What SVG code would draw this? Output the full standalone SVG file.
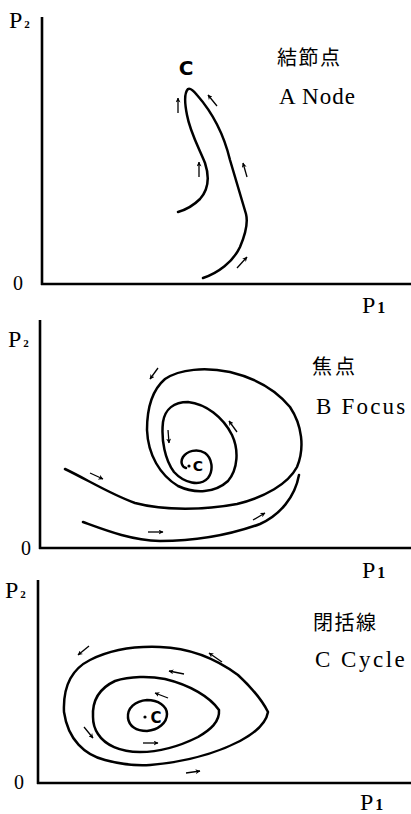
<svg xmlns="http://www.w3.org/2000/svg" width="411" height="814" viewBox="0 0 411 814">
<defs>
<style>
.axis{stroke:#000;stroke-width:2.6;fill:none}
.curve{stroke:#000;stroke-width:2.5;fill:none;stroke-linecap:round;stroke-linejoin:round}
.arr{stroke:#000;stroke-width:1.3;fill:none;marker-end:url(#ah)}
.ax{font-family:"Liberation Serif",serif;font-size:24px;fill:#000}
.zero{font-family:"Liberation Serif",serif;font-size:20px;fill:#000}
.sub{font-family:"Liberation Serif",serif;font-weight:bold;fill:#000}
.jp{font-family:"Noto Sans CJK JP",sans-serif;font-size:20px;fill:#000}
.en{font-family:"Liberation Serif",serif;font-size:23px;fill:#000}
.hc{font-family:"DejaVu Sans",sans-serif;font-weight:bold;fill:#000}
</style>
<marker id="ah" viewBox="0 0 10 10" refX="9" refY="5" markerWidth="5" markerHeight="5" orient="auto" markerUnits="userSpaceOnUse">
<path d="M0,0 L10,5 L0,10 L3,5 Z" fill="#000"/>
</marker>
</defs>
<rect width="411" height="814" fill="#fff"/>

<g id="panelA">
<g id="axesA">
<line class="axis" x1="42" y1="17" x2="42" y2="285"/>
<line class="axis" x1="41" y1="284" x2="411" y2="284"/>
<text class="ax" x="9" y="28">P<tspan class="sub" style="font-size:11px" dx="2">2</tspan></text>
<text class="zero" x="13" y="290">0</text>
<text class="ax" x="362" y="313">P<tspan class="sub" style="font-size:16px" dx="2">1</tspan></text>
</g>
<g id="labelA">
<text class="jp" x="277" y="65" style="letter-spacing:1.5px">結節点</text>
<text class="en" x="279" y="104" style="letter-spacing:1px">A Node</text>
</g>
<g id="pointA">
<text class="hc" style="font-size:20px" x="186" y="75" text-anchor="middle">C</text>
</g>
<g id="trajA">
<path class="curve" d="M203,278 C218,273 233,262 240,247 C246,233 248,222 246,214 C242,200 236,180 230,160 C224,135 212,112 197,95 C193,90 190,88 188,89 C184,93 185,105 187,115 C190,132 199,148 205,163 C210,178 208,190 200,199 C193,206 185,210 178,212"/>
</g>
<g id="arrowsA">
<line class="arr" x1="178" y1="113" x2="178" y2="98"/>
<line class="arr" x1="199" y1="177" x2="199" y2="162"/>
<line class="arr" x1="217" y1="106" x2="208" y2="95"/>
<line class="arr" x1="247" y1="177" x2="243" y2="163"/>
<line class="arr" x1="237" y1="268" x2="247" y2="257"/>
</g>
</g>

<g id="panelB">
<g id="axesB">
<line class="axis" x1="40" y1="320" x2="40" y2="549"/>
<line class="axis" x1="39" y1="548" x2="411" y2="548"/>
<text class="ax" x="8" y="347">P<tspan class="sub" style="font-size:11px" dx="2">2</tspan></text>
<text class="zero" x="21" y="555">0</text>
<text class="ax" x="362" y="578">P<tspan class="sub" style="font-size:16px" dx="2">1</tspan></text>
</g>
<g id="labelB">
<text class="jp" x="312" y="374" style="letter-spacing:3px">焦点</text>
<text class="en" x="316" y="414" style="letter-spacing:2.2px">B Focus</text>
</g>
<g id="pointB">
<circle cx="189" cy="466" r="1.6" fill="#000"/>
<text class="hc" style="font-size:14px" x="198" y="471" text-anchor="middle">C</text>
</g>
<g id="trajB">
<path class="curve" d="M65,469 C88,480 110,494 135,503 C165,511 205,510 237,504 C265,497 288,484 297,467 C305,448 302,425 290,407 C276,390 255,378 230,372 C205,367 180,369 165,379 C151,391 147,410 147,430 C148,455 160,475 178,486 C195,494 215,493 228,481 C238,469 239,450 232,435 C223,417 206,404 188,402 C174,402 165,409 163,422 C161,440 165,460 174,472 C184,483 200,487 208,478 C214,470 212,458 205,453 C197,448 187,451 183,457 C180,462 182,467 186,468"/>
<path class="curve" d="M83,522 C105,530 130,540 160,541 C200,541 235,533 260,524 C280,515 295,497 299,475"/>
</g>
<g id="arrowsB">
<line class="arr" x1="90" y1="473" x2="103" y2="479"/>
<line class="arr" x1="148" y1="532" x2="163" y2="532"/>
<line class="arr" x1="253" y1="520" x2="265" y2="513"/>
<line class="arr" x1="237" y1="432" x2="229" y2="421"/>
<line class="arr" x1="158" y1="368" x2="150" y2="379"/>
<line class="arr" x1="168" y1="430" x2="169" y2="443"/>
</g>
</g>

<g id="panelC">
<g id="axesC">
<line class="axis" x1="38" y1="580" x2="38" y2="784"/>
<line class="axis" x1="37" y1="783" x2="411" y2="783"/>
<text class="ax" x="5" y="598">P<tspan class="sub" style="font-size:11px" dx="2">2</tspan></text>
<text class="zero" x="14" y="789">0</text>
<text class="ax" x="360" y="810">P<tspan class="sub" style="font-size:16px" dx="2">1</tspan></text>
</g>
<g id="labelC">
<text class="jp" x="313" y="630" style="letter-spacing:1.5px">閉括線</text>
<text class="en" x="315" y="667" style="letter-spacing:2.5px">C Cycle</text>
</g>
<g id="pointC">
<circle cx="145" cy="717" r="1.6" fill="#000"/>
<text class="hc" style="font-size:15px" x="156" y="723" text-anchor="middle">C</text>
</g>
<g id="trajC">
<path class="curve" d="M64,712 C63,690 70,670 90,660 C110,650 135,646 160,647 C190,648 215,658 238,675 C252,688 262,700 268,712 C266,724 255,733 240,741 C215,754 185,762 150,765 C135,766 120,764 105,760 C85,755 68,740 64,712 Z"/>
<path class="curve" d="M93,717 C92,700 100,688 115,681 C130,676 150,676 165,679 C190,685 210,697 219,710 C220,722 210,730 198,737 C180,746 160,752 140,752 C120,752 105,745 98,734 C94,728 93,722 93,717 Z"/>
<path class="curve" d="M128,718 C127,708 135,701 147,700 C158,700 167,706 167,714 C167,723 158,730 147,731 C136,731 129,726 128,718 Z"/>
</g>
<g id="arrowsC">
<line class="arr" x1="89" y1="646" x2="78" y2="655"/>
<line class="arr" x1="222" y1="662" x2="209" y2="653"/>
<line class="arr" x1="184" y1="674" x2="169" y2="671"/>
<line class="arr" x1="168" y1="698" x2="155" y2="693"/>
<line class="arr" x1="84" y1="727" x2="93" y2="738"/>
<line class="arr" x1="143" y1="743" x2="158" y2="743"/>
<line class="arr" x1="186" y1="773" x2="200" y2="771"/>
</g>
</g>
</svg>
